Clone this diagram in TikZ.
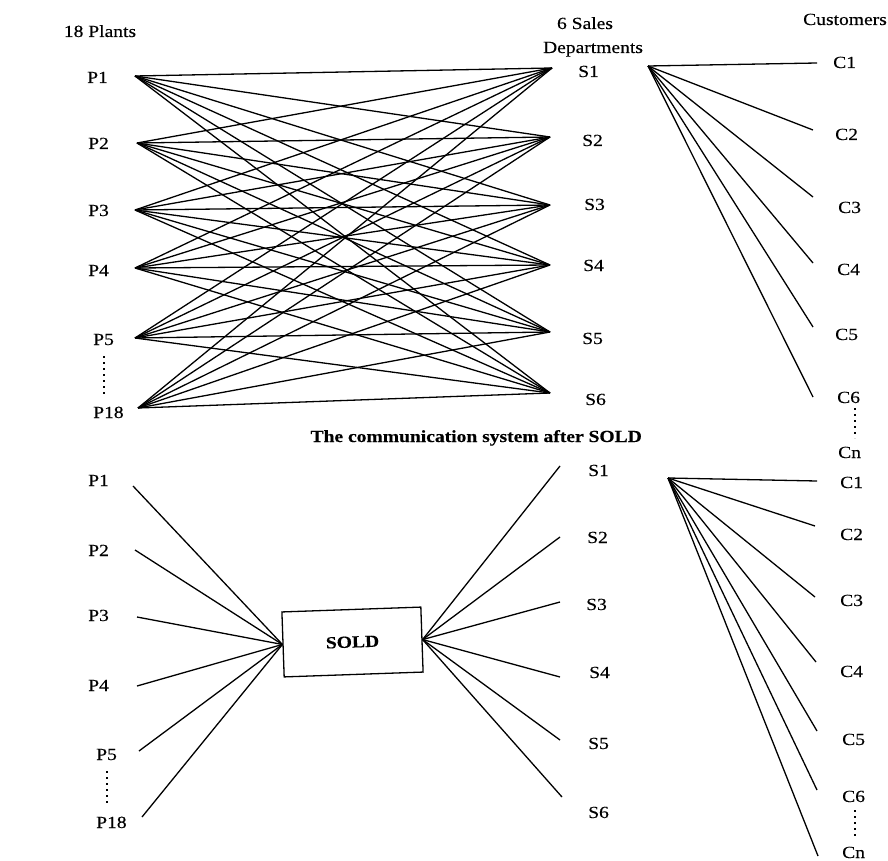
\documentclass[tikz,border=0pt]{standalone}
\usepackage{fontspec}
\setmainfont[FakeStretch=1.15,FakeBold=0.3]{Liberation Serif}
\begin{document}
\begin{tikzpicture}[x=1pt,y=-1pt,
  lbl/.style={inner sep=0pt,anchor=base west,font=\fontsize{17}{20}\selectfont},
  hdr/.style={inner sep=0pt,anchor=base,font=\fontsize{17}{20}\selectfont},
  ttl/.style={inner sep=0pt,anchor=base east,font=\fontsize{17}{20}\selectfont\bfseries},
  wire/.style={line width=1.3pt,black},
  vdots/.style={line width=1.8pt,dash pattern=on 1.6pt off 4.4pt}]
\useasboundingbox (0,0) rectangle (888,861);
\fill[white] (0,0) rectangle (888,861);

% ---------- headers ----------
\node[hdr] (hplants) at (100,37) {18 Plants};
\node[hdr] (hsales) at (585,29) {6 Sales};
\node[hdr] (hdept) at (593,53) {Departments};
\node[hdr] (hcust) at (845,25) {Customers};

% ---------- top: plants ----------
\node[lbl] (tP1) at (87,83) {P1};
\node[lbl] (tP2) at (88,149) {P2};
\node[lbl] (tP3) at (88,216) {P3};
\node[lbl] (tP4) at (88,276) {P4};
\node[lbl] (tP5) at (93,345) {P5};
\node[lbl] (tP18) at (93,418) {P18};
\coordinate (tdA) at (104,356);
\coordinate (tdB) at (104,394);
\draw[vdots] (tdA) -- (tdB);

\coordinate (tp1) at (135,76);
\coordinate (tp2) at (137,143);
\coordinate (tp3) at (135,210);
\coordinate (tp4) at (135,268);
\coordinate (tp5) at (135,338);
\coordinate (tp6) at (138,408);

% ---------- top: sales ----------
\node[lbl] (tS1) at (578,77) {S1};
\node[lbl] (tS2) at (582,146) {S2};
\node[lbl] (tS3) at (584,210) {S3};
\node[lbl] (tS4) at (583,271) {S4};
\node[lbl] (tS5) at (582,344) {S5};
\node[lbl] (tS6) at (585,405) {S6};

\coordinate (ts1) at (552,68);
\coordinate (ts2) at (550,137);
\coordinate (ts3) at (550,205);
\coordinate (ts4) at (550,265);
\coordinate (ts5) at (550,332);
\coordinate (ts6) at (550,393);

\foreach \i in {1,...,6}
  \foreach \j in {1,...,6}
    \draw[wire] (tp\i) -- (ts\j);

% ---------- top: customers ----------
\coordinate (tc0) at (648,66);
\coordinate (tc1) at (817,63);
\coordinate (tc2) at (813,130);
\coordinate (tc3) at (813,197);
\coordinate (tc4) at (813,263);
\coordinate (tc5) at (813,327);
\coordinate (tc6) at (813,397);
\foreach \k in {1,...,6}
  \draw[wire] (tc0) -- (tc\k);

\node[lbl] (tC1) at (833,68) {C1};
\node[lbl] (tC2) at (835,140) {C2};
\node[lbl] (tC3) at (838,213) {C3};
\node[lbl] (tC4) at (837,275) {C4};
\node[lbl] (tC5) at (835,340) {C5};
\node[lbl] (tC6) at (837,403) {C6};
\node[lbl] (tCn) at (838,458) {Cn};
\coordinate (tcdA) at (855,408);
\coordinate (tcdB) at (855,438);
\draw[vdots] (tcdA) -- (tcdB);

% ---------- title ----------
\node[ttl] (title) at (642,442) {The communication system after SOLD};

% ---------- bottom: plants ----------
\node[lbl] (bP1) at (88,486) {P1};
\node[lbl] (bP2) at (88,556) {P2};
\node[lbl] (bP3) at (88,621) {P3};
\node[lbl] (bP4) at (88,691) {P4};
\node[lbl] (bP5) at (96,760) {P5};
\node[lbl] (bP18) at (96,828) {P18};
\coordinate (bdA) at (107,771);
\coordinate (bdB) at (107,806);
\draw[vdots] (bdA) -- (bdB);

\coordinate (bp1) at (133,486);
\coordinate (bp2) at (135,550);
\coordinate (bp3) at (137,617);
\coordinate (bp4) at (137,686);
\coordinate (bp5) at (139,751);
\coordinate (bp6) at (142,817);

% ---------- SOLD box ----------
\node[draw,line width=1.3pt,minimum width=139pt,minimum height=65pt,inner sep=0pt,
      rotate=2,font=\fontsize{17}{20}\selectfont\bfseries] (sold) at (352.5,642) {SOLD};

\foreach \i in {1,...,6}
  \draw[wire] (bp\i) -- (sold.west);

% ---------- bottom: sales ----------
\coordinate (bs1) at (560,466);
\coordinate (bs2) at (560,537);
\coordinate (bs3) at (560,602);
\coordinate (bs4) at (560,677);
\coordinate (bs5) at (560,740);
\coordinate (bs6) at (562,797);
\foreach \j in {1,...,6}
  \draw[wire] (sold.east) -- (bs\j);

\node[lbl] (bS1) at (588,476) {S1};
\node[lbl] (bS2) at (587,543) {S2};
\node[lbl] (bS3) at (586,610) {S3};
\node[lbl] (bS4) at (589,678) {S4};
\node[lbl] (bS5) at (588,749) {S5};
\node[lbl] (bS6) at (588,818) {S6};

% ---------- bottom: customers ----------
\coordinate (bc0) at (668,478);
\coordinate (bc1) at (817,481);
\coordinate (bc2) at (815,526);
\coordinate (bc3) at (815,597);
\coordinate (bc4) at (816,662);
\coordinate (bc5) at (817,731);
\coordinate (bc6) at (817,790);
\coordinate (bc7) at (818,856);
\foreach \k in {1,...,7}
  \draw[wire] (bc0) -- (bc\k);

\node[lbl] (bC1) at (840,488) {C1};
\node[lbl] (bC2) at (840,540) {C2};
\node[lbl] (bC3) at (840,606) {C3};
\node[lbl] (bC4) at (840,677) {C4};
\node[lbl] (bC5) at (842,745) {C5};
\node[lbl] (bC6) at (842,802) {C6};
\node[lbl] (bCn) at (842,858) {Cn};
\coordinate (bcdA) at (855,810);
\coordinate (bcdB) at (855,838);
\draw[vdots] (bcdA) -- (bcdB);
\end{tikzpicture}
\end{document}
